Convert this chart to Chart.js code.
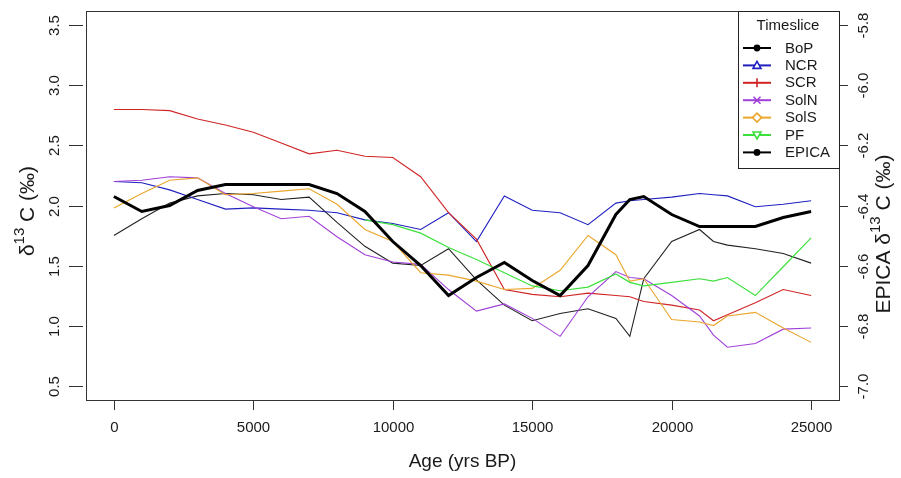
<!DOCTYPE html>
<html>
<head>
<meta charset="utf-8">
<script src="https://cdn.jsdelivr.net/npm/chart.js@4.4.1/dist/chart.umd.min.js"></script>
<style>
  html, body { margin: 0; padding: 0; background: #ffffff; }
  #wrap { width: 901px; height: 478px; position: relative; }
</style>
</head>
<body>
<div id="wrap"><canvas id="c" width="901" height="478"></canvas></div>
<script>
// ---- data ----
const ages = [0,1000,2000,3000,4000,5000,6000,7000,8000,9000,10000,11000,12000,13000,14000,15000,16000,17000,18000,18500,19000,20000,21000,21500,22000,23000,24000,25000];
const seriesNames = ["BoP","NCR","SCR","SolN","SolS","PF","EPICA"];
const bop   = [1.75,1.89,2.02,2.08,2.10,2.09,2.05,2.07,1.86,1.66,1.52,1.50,1.64,1.38,1.17,1.04,1.10,1.14,1.06,0.91,1.39,1.70,1.80,1.70,1.67,1.64,1.60,1.52];
const ncr   = [2.20,2.19,2.13,2.05,1.97,1.98,1.97,1.96,1.94,1.88,1.85,1.80,1.94,1.70,2.08,1.96,1.94,1.84,2.02,2.04,2.05,2.07,2.10,2.09,2.08,1.99,2.01,2.04];
const scr   = [2.80,2.80,2.79,2.72,2.67,2.61,2.52,2.43,2.46,2.41,2.40,2.24,1.94,1.72,1.30,1.26,1.24,1.27,1.25,1.24,1.20,1.17,1.13,1.04,1.09,1.19,1.30,1.25];
const soln  = [2.20,2.21,2.24,2.23,2.10,1.99,1.89,1.91,1.74,1.59,1.53,1.51,1.30,1.12,1.18,1.06,0.91,1.24,1.45,1.40,1.39,1.25,1.08,0.92,0.82,0.85,0.97,0.98];
const sols  = [1.98,2.10,2.21,2.23,2.09,2.10,2.12,2.14,2.01,1.80,1.70,1.44,1.42,1.37,1.30,1.31,1.46,1.75,1.59,1.37,1.39,1.05,1.03,1.00,1.08,1.11,0.98,0.86];
const pf    = [null,null,null,null,null,null,null,null,null,1.88,1.84,1.77,1.65,1.55,1.44,1.33,1.29,1.32,1.43,1.36,1.33,1.36,1.39,1.37,1.40,1.25,1.49,1.73];
const epica = [-6.37,-6.42,-6.40,-6.35,-6.33,-6.33,-6.33,-6.33,-6.36,-6.42,-6.52,-6.60,-6.70,-6.64,-6.59,-6.65,-6.70,-6.60,-6.43,-6.38,-6.37,-6.43,-6.47,-6.47,-6.47,-6.47,-6.44,-6.42];
const xTicks = [0,5000,10000,15000,20000,25000];
const leftTicks = [0.5,1.0,1.5,2.0,2.5,3.0,3.5];
const rightTicks = [-7.0,-6.8,-6.6,-6.4,-6.2,-6.0,-5.8];

const colors = {BoP:'#222222', NCR:'#2020c0', SCR:'#d02424', SolN:'#a040d8', SolS:'#eaa52a', PF:'#3ce03c', EPICA:'#000000'};
const markers = {BoP:'circle', NCR:'tri', SCR:'plus', SolN:'cross', SolS:'diamond', PF:'dtri', EPICA:'circle'};
const FONT = '"Liberation Sans", Arial, sans-serif';

function pts(vals){ return ages.map((a,i)=>({x:a, y:vals[i]})); }

function ds(name, vals, axis, width, order){
  return { label:name, data:pts(vals), yAxisID:axis, borderColor:colors[name], backgroundColor:colors[name],
           borderWidth:width, pointRadius:0, tension:0, fill:false, spanGaps:false, order:order };
}

const datasets = [
  ds('BoP', bop, 'y', 1.1, 6),
  ds('NCR', ncr, 'y', 1.1, 5),
  ds('SCR', scr, 'y', 1.1, 4),
  ds('SolN', soln, 'y', 1.1, 3),
  ds('SolS', sols, 'y', 1.1, 2),
  ds('PF', pf, 'y', 1.2, 1),
  ds('EPICA', epica, 'y2', 3, 0)
];

function fmt1(v){ return v.toFixed(1); }

const decor = {
  id:'decor',
  afterDraw(chart){
    const ctx = chart.ctx, ca = chart.chartArea;
    const xs = chart.scales.x, ys = chart.scales.y, y2 = chart.scales.y2;
    ctx.save();
    // frame
    ctx.strokeStyle = '#333'; ctx.lineWidth = 1;
    ctx.strokeRect(Math.round(ca.left)+0.5, Math.round(ca.top)+0.5, Math.round(ca.right-ca.left), Math.round(ca.bottom-ca.top));
    ctx.fillStyle = '#1a1a1a';
    // x ticks
    ctx.font = '15px ' + FONT; ctx.textAlign = 'center'; ctx.textBaseline = 'middle';
    xTicks.forEach(t => {
      const px = Math.round(xs.getPixelForValue(t)) + 0.5;
      ctx.beginPath(); ctx.moveTo(px, ca.bottom+1); ctx.lineTo(px, ca.bottom+10); ctx.stroke();
      ctx.fillText(String(t), px, 428);
    });
    // left ticks (labels rotated)
    leftTicks.forEach(t => {
      const py = Math.round(ys.getPixelForValue(t)) + 0.5;
      ctx.beginPath(); ctx.moveTo(69, py); ctx.lineTo(83, py); ctx.stroke();
      ctx.save(); ctx.translate(55, py); ctx.rotate(-Math.PI/2); ctx.fillText(fmt1(t), 0, 0); ctx.restore();
    });
    // right ticks
    rightTicks.forEach(t => {
      const py = Math.round(y2.getPixelForValue(t)) + 0.5;
      ctx.beginPath(); ctx.moveTo(ca.right+1, py); ctx.lineTo(ca.right+9, py); ctx.stroke();
      ctx.save(); ctx.translate(864, py); ctx.rotate(-Math.PI/2); ctx.fillText(fmt1(t), 0, 0); ctx.restore();
    });
    // x title
    ctx.font = '19px ' + FONT;
    ctx.fillText('Age (yrs BP)', (ca.left+ca.right)/2, 462);
    // y titles with superscript
    function supTitle(cx, cy, pre, sup, post){
      ctx.save(); ctx.translate(cx, cy); ctx.rotate(-Math.PI/2);
      ctx.font = '21px ' + FONT; const w1 = ctx.measureText(pre).width; const w3 = ctx.measureText(post).width;
      ctx.font = '15px ' + FONT; const w2 = ctx.measureText(sup).width;
      let x = -(w1+w2+w3)/2;
      ctx.textAlign = 'left';
      ctx.font = '21px ' + FONT; ctx.fillText(pre, x, 0); x += w1;
      ctx.font = '15px ' + FONT; ctx.fillText(sup, x, -8); x += w2;
      ctx.font = '21px ' + FONT; ctx.fillText(post, x, 0);
      ctx.restore();
    }
    supTitle(28, 211, 'δ', '13', ' C (‰)');
    supTitle(884, 234, 'EPICA δ', '13', ' C (‰)');
    // legend
    const lx0 = 738.5, ly0 = Math.round(ca.top)+0.5, lx1 = Math.round(ca.right)+0.5, ly1 = 168.5;
    ctx.fillStyle = '#fff'; ctx.fillRect(lx0, ly0, lx1-lx0, ly1-ly0);
    ctx.strokeStyle = '#222'; ctx.lineWidth = 1; ctx.strokeRect(lx0, ly0, lx1-lx0, ly1-ly0);
    ctx.fillStyle = '#1a1a1a'; ctx.font = '15px ' + FONT; ctx.textAlign = 'center';
    ctx.fillText('Timeslice', 788, 26);
    ctx.textAlign = 'left';
    seriesNames.forEach((n, i) => {
      const y = 48 + i*17.4;
      const c = colors[n] === '#222222' ? '#000' : colors[n];
      ctx.strokeStyle = c; ctx.lineWidth = 2;
      ctx.beginPath(); ctx.moveTo(743, y); ctx.lineTo(771, y); ctx.stroke();
      const mx = 757, r = 3.5;
      ctx.lineWidth = 1.6;
      ctx.beginPath();
      switch(markers[n]){
        case 'circle': ctx.arc(mx, y, 2.6, 0, Math.PI*2); ctx.fillStyle = c; ctx.fill(); ctx.stroke(); break;
        case 'tri': ctx.moveTo(mx, y-r-0.5); ctx.lineTo(mx+r+0.5, y+r-0.5); ctx.lineTo(mx-r-0.5, y+r-0.5); ctx.closePath(); ctx.fillStyle='#fff'; ctx.fill(); ctx.stroke(); break;
        case 'dtri': ctx.moveTo(mx, y+r+0.5); ctx.lineTo(mx+r+0.5, y-r+0.5); ctx.lineTo(mx-r-0.5, y-r+0.5); ctx.closePath(); ctx.fillStyle='#fff'; ctx.fill(); ctx.stroke(); break;
        case 'plus': ctx.moveTo(mx, y-r-1); ctx.lineTo(mx, y+r+1); ctx.stroke(); break;
        case 'cross': ctx.moveTo(mx-r, y-r); ctx.lineTo(mx+r, y+r); ctx.moveTo(mx+r, y-r); ctx.lineTo(mx-r, y+r); ctx.stroke(); break;
        case 'diamond': ctx.moveTo(mx, y-r-1); ctx.lineTo(mx+r+1, y); ctx.lineTo(mx, y+r+1); ctx.lineTo(mx-r-1, y); ctx.closePath(); ctx.fillStyle='#fff'; ctx.fill(); ctx.stroke(); break;
      }
      ctx.fillStyle = '#1a1a1a';
      ctx.textBaseline = 'middle';
      ctx.fillText(n, 785, y+0.5);
    });
    ctx.restore();
  }
};

new Chart(document.getElementById('c'), {
  type: 'line',
  data: { datasets },
  options: {
    responsive: false, animation: false, devicePixelRatio: 1,
    layout: { padding: { top: 11, left: 0, right: 0, bottom: 0 } },
    plugins: { legend: { display: false }, tooltip: { enabled: false } },
    scales: {
      x: { type: 'linear', min: -1000, max: 26000,
           ticks: { display: false }, grid: { display: false }, border: { display: false },
           afterFit: s => { s.height = 78; } },
      y: { type: 'linear', position: 'left', min: 0.38, max: 3.62,
           ticks: { display: false }, grid: { display: false }, border: { display: false },
           afterFit: s => { s.width = 86; } },
      y2: { type: 'linear', position: 'right', min: -7.048, max: -5.752,
           ticks: { display: false }, grid: { display: false }, border: { display: false },
           afterFit: s => { s.width = 62; } }
    }
  },
  plugins: [decor]
});
</script>
</body>
</html>
